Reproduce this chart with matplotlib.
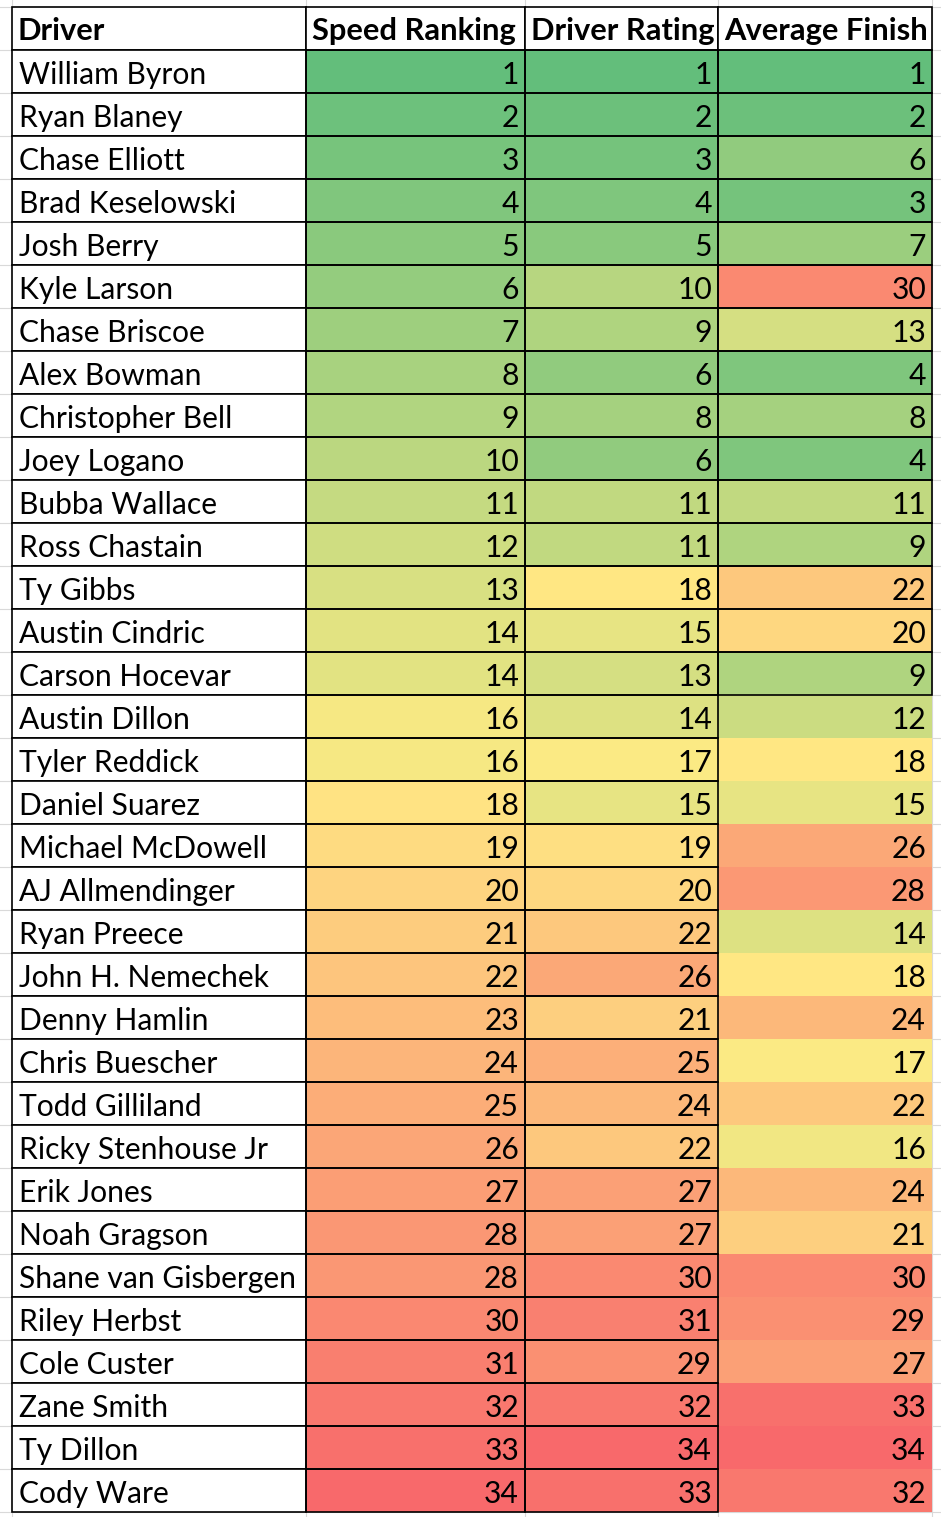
import numpy as np
import matplotlib
matplotlib.use("Agg")
import matplotlib.pyplot as plt
from matplotlib.patches import Rectangle
from matplotlib.colors import LinearSegmentedColormap, TwoSlopeNorm

headers = ["Driver", "Speed Ranking", "Driver Rating", "Average Finish"]
drivers = ["William Byron", "Ryan Blaney", "Chase Elliott", "Brad Keselowski", "Josh Berry",
           "Kyle Larson", "Chase Briscoe", "Alex Bowman", "Christopher Bell", "Joey Logano",
           "Bubba Wallace", "Ross Chastain", "Ty Gibbs", "Austin Cindric", "Carson Hocevar",
           "Austin Dillon", "Tyler Reddick", "Daniel Suarez", "Michael McDowell", "AJ Allmendinger",
           "Ryan Preece", "John H. Nemechek", "Denny Hamlin", "Chris Buescher", "Todd Gilliland",
           "Ricky Stenhouse Jr", "Erik Jones", "Noah Gragson", "Shane van Gisbergen", "Riley Herbst",
           "Cole Custer", "Zane Smith", "Ty Dillon", "Cody Ware"]
speed = [1, 2, 3, 4, 5, 6, 7, 8, 9, 10, 11, 12, 13, 14, 14, 16, 16, 18, 19, 20, 21, 22, 23, 24,
         25, 26, 27, 28, 28, 30, 31, 32, 33, 34]
rating = [1, 2, 3, 4, 5, 10, 9, 6, 8, 6, 11, 11, 18, 15, 13, 14, 17, 15, 19, 20, 22, 26, 21, 25,
          24, 22, 27, 27, 30, 31, 29, 32, 34, 33]
finish = [1, 2, 6, 3, 7, 30, 13, 4, 8, 4, 11, 9, 22, 20, 9, 12, 18, 15, 26, 28, 14, 18, 24, 17,
          22, 16, 24, 21, 30, 29, 27, 33, 34, 32]

W, H = 941, 1517
col_x = [12, 306, 525, 718, 932]
top = 7.3
row_h = 43.0
n_rows = len(drivers) + 1
bordered_finish = 15  # average finish column only has borders on first rows

plt.rcParams['font.family'] = ['Lato', 'DejaVu Sans']
fig = plt.figure(figsize=(W / 100, H / 100), dpi=100)
ax = fig.add_axes([0, 0, 1, 1])
ax.set_xlim(0, W)
ax.set_ylim(H, 0)
ax.axis('off')

grid = '#d9d9d9'
# spreadsheet gridlines
for x in col_x:
    ax.plot([x, x], [0, H], color=grid, lw=0.8, zorder=1)
for i in range(n_rows + 2):
    y = top + i * row_h
    ax.plot([0, W], [y, y], color=grid, lw=0.8, zorder=1)

cmap = LinearSegmentedColormap.from_list('xl', ['#63BE7B', '#FFEB84', '#F8696B'])
cols = [speed, rating, finish]

fs = 21.6
# header
for j, h in enumerate(headers):
    x0, x1 = col_x[j], col_x[j + 1]
    ax.add_patch(Rectangle((x0, top), x1 - x0, row_h, facecolor='white', edgecolor='black',
                           lw=1.2, zorder=3))
    ax.text(x0 + 6, top + row_h - 10, h, fontsize=22.2, fontweight='bold', ha='left',
            va='baseline', zorder=4)

for i, name in enumerate(drivers):
    y0 = top + (i + 1) * row_h
    ax.add_patch(Rectangle((col_x[0], y0), col_x[1] - col_x[0], row_h, facecolor='white',
                           edgecolor='black', lw=1.2, zorder=3))
    ax.text(col_x[0] + 7, y0 + row_h - 9.5, name, fontsize=fs, ha='left', va='baseline', zorder=4)
    for j, vals in enumerate(cols):
        arr = np.array(vals, dtype=float)
        norm = TwoSlopeNorm(vcenter=np.percentile(arr, 50), vmin=arr.min(), vmax=arr.max())
        x0, x1 = col_x[j + 1], col_x[j + 2]
        ax.add_patch(Rectangle((x0, y0), x1 - x0, row_h, facecolor=cmap(norm(vals[i])),
                               edgecolor='none', zorder=2))
        if j < 2 or i < bordered_finish:
            ax.add_patch(Rectangle((x0, y0), x1 - x0, row_h, facecolor='none',
                                   edgecolor='black', lw=1.2, zorder=3))
        ax.text(x1 - 6, y0 + row_h - 9.5, str(vals[i]), fontsize=fs, ha='right',
                va='baseline', zorder=4)

fig.savefig('out.png', dpi=100)
